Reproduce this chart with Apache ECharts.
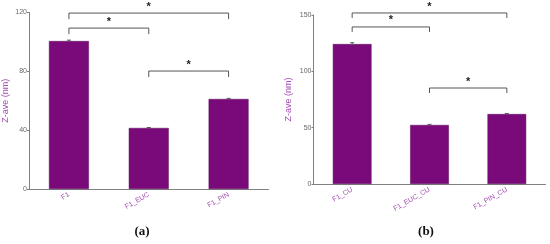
<!DOCTYPE html>
<html><head><meta charset="utf-8">
<script src="https://cdn.jsdelivr.net/npm/echarts@6/dist/echarts.min.js"></script>
<style>html,body{margin:0;padding:0;background:#fff}#c{width:550px;height:244px}</style>
</head><body><div id="c"></div>
<script>
// Panel (a)
var catsA = ['F1', 'F1_EUC', 'F1_PIN'];
var valsA = [100.6, 41.5, 61.2];
var errA = [0.6, 0.3, 0.4];
var ticksA = [0, 40, 80, 120];
// significance brackets: [fromIndex, toIndex, level]
var sigA = [[0, 2, 119.6], [0, 1, 109.4], [1, 2, 80.2]];

// Panel (b)
var catsB = ['F1_CU', 'F1_EUC_CU', 'F1_PIN_CU'];
var valsB = [124.2, 52.4, 62.1];
var errB = [1.2, 0.5, 0.4];
var ticksB = [0, 50, 100, 150];
var sigB = [[0, 2, 151.8], [0, 1, 139.4], [1, 2, 85.2]];

var BAR = '#7a0a7a';
var PURPLE_TXT = '#a24db0';
var AXIS = '#808080';

function yAxis(idx, ticks, gap) {
  return {
    type: 'value', gridIndex: idx, min: ticks[0], max: ticks[ticks.length - 1],
    interval: ticks[1] - ticks[0],
    name: 'Z-ave (nm)', nameLocation: 'middle', nameGap: gap,
    nameTextStyle: { color: PURPLE_TXT, fontSize: 9, fontFamily: 'Liberation Sans' },
    axisLine: { show: true, lineStyle: { color: AXIS, width: 1 } },
    axisTick: { show: true, length: 2, lineStyle: { color: AXIS } },
    axisLabel: { color: '#666', fontSize: 7, margin: 2, fontFamily: 'Liberation Sans' },
    splitLine: { show: false }
  };
}
function xAxis(idx, cats) {
  return {
    type: 'category', gridIndex: idx, data: cats,
    axisLine: { lineStyle: { color: AXIS, width: 1 } },
    axisTick: { show: false },
    axisLabel: { color: PURPLE_TXT, fontSize: 7, rotate: 30, margin: 5, interval: 0, fontFamily: 'Liberation Sans' }
  };
}
function bracketSeries(idx, data, drop) {
  return {
    type: 'custom', xAxisIndex: idx, yAxisIndex: idx, clip: false, silent: true,
    data: data,
    renderItem: function (params, api) {
      var lv = api.value(2);
      var p1 = api.coord([api.value(0), lv]);
      var p2 = api.coord([api.value(1), lv]);
      return {
        type: 'group', children: [
          { type: 'polyline', shape: { points: [[p1[0], p1[1] + drop], [p1[0], p1[1]], [p2[0], p2[1]], [p2[0], p2[1] + drop]] },
            style: { stroke: '#555', lineWidth: 1, fill: null } },
          { type: 'text', x: (p1[0] + p2[0]) / 2, y: p1[1] - 1,
            style: { text: '*', fill: '#222', fontSize: 11, fontWeight: 'bold', align: 'center', verticalAlign: 'bottom', fontFamily: 'Liberation Sans' } }
        ]
      };
    }
  };
}
function errSeries(idx, vals, errs) {
  return {
    type: 'custom', xAxisIndex: idx, yAxisIndex: idx, clip: false, silent: true, z: 5,
    data: vals.map(function (v, i) { return [i, v, errs[i]]; }),
    renderItem: function (params, api) {
      var x = api.value(0), v = api.value(1), e = api.value(2);
      var hi = api.coord([x, v + e]), lo = api.coord([x, v - e]);
      return {
        type: 'group', children: [
          { type: 'line', shape: { x1: hi[0], y1: hi[1], x2: lo[0], y2: lo[1] }, style: { stroke: '#555', lineWidth: 1 } },
          { type: 'line', shape: { x1: hi[0] - 2, y1: hi[1], x2: hi[0] + 2, y2: hi[1] }, style: { stroke: '#555', lineWidth: 1 } }
        ]
      };
    }
  };
}

var chart = echarts.init(document.getElementById('c'), null, { renderer: 'canvas' });
chart.setOption({
  animation: false,
  backgroundColor: '#fff',
  grid: [
    { left: 26.5, width: 242, top: 12.5, bottom: 55 },
    { left: 313.5, width: 232, top: 15, bottom: 60 }
  ],
  xAxis: [xAxis(0, catsA), xAxis(1, catsB)],
  yAxis: [yAxis(0, ticksA, 19), yAxis(1, ticksB, 20)],
  title: [
    { text: '(a)', left: 137, top: 220, textAlign: 'center',
      textStyle: { fontFamily: 'Liberation Serif', fontSize: 13, fontWeight: 'bold', color: '#111' } },
    { text: '(b)', left: 421, top: 220, textAlign: 'center',
      textStyle: { fontFamily: 'Liberation Serif', fontSize: 13, fontWeight: 'bold', color: '#111' } }
  ],
  series: [
    { type: 'bar', xAxisIndex: 0, yAxisIndex: 0, data: valsA, barWidth: '50%',
      itemStyle: { color: BAR, borderColor: '#5a0a5a', borderWidth: 0.5 } },
    { type: 'bar', xAxisIndex: 1, yAxisIndex: 1, data: valsB, barWidth: '50%',
      itemStyle: { color: BAR, borderColor: '#5a0a5a', borderWidth: 0.5 } },
    errSeries(0, valsA, errA),
    errSeries(1, valsB, errB),
    bracketSeries(0, sigA, 6),
    bracketSeries(1, sigB, 5)
  ]
});
</script></body></html>
